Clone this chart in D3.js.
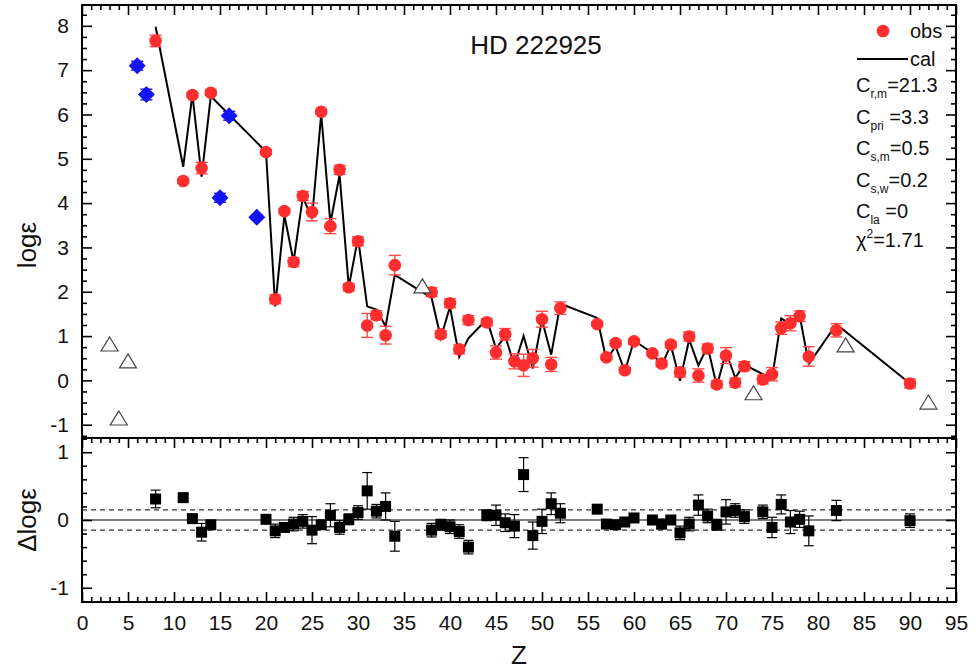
<!DOCTYPE html>
<html>
<head>
<meta charset="utf-8">
<script src="https://cdn.jsdelivr.net/npm/d3@7"></script>
<style>
  body { margin: 0; background: #fff; }
  text { font-family: "Liberation Sans", Arial, sans-serif; fill: #111; }
</style>
</head>
<body>
<svg id="chart" width="976" height="670"></svg>
<script>
// fitted elements: observed abundance, error, model abundance, residual
const zObs = [8, 11, 12, 13, 14, 20, 21, 22, 23, 24, 25, 26, 27, 28, 29, 30, 31, 32, 33, 34,
  38, 39, 40, 41, 42, 44, 45, 46, 47, 48, 49, 50, 51, 52, 56, 57, 58, 59, 60, 62,
  63, 64, 65, 66, 67, 68, 69, 70, 71, 72, 74, 75, 76, 77, 78, 79, 82, 90];
const logObs = [7.66, 4.50, 6.44, 4.79, 6.49, 5.15, 1.83, 3.82, 2.67, 4.16, 3.80, 6.06, 3.48, 4.75, 2.10, 3.14, 1.24, 1.47, 1.02, 2.60,
  1.99, 1.04, 1.74, 0.70, 1.36, 1.31, 0.63, 1.04, 0.43, 0.34, 0.50, 1.38, 0.36, 1.63, 1.27, 0.52, 0.84, 0.23, 0.88, 0.61,
  0.38, 0.81, 0.18, 0.99, 0.11, 0.72, -0.09, 0.56, -0.05, 0.32, 0.02, 0.14, 1.18, 1.29, 1.45, 0.54, 1.13, -0.07];
const errObs = [0.13, 0.05, 0.05, 0.13, 0.06, 0.05, 0.10, 0.06, 0.10, 0.10, 0.20, 0.05, 0.17, 0.10, 0.08, 0.10, 0.27, 0.10, 0.20, 0.22,
  0.10, 0.08, 0.10, 0.10, 0.10, 0.08, 0.15, 0.13, 0.17, 0.25, 0.20, 0.18, 0.16, 0.14, 0.05, 0.05, 0.06, 0.06, 0.06, 0.05,
  0.07, 0.06, 0.10, 0.10, 0.15, 0.10, 0.08, 0.18, 0.10, 0.10, 0.10, 0.15, 0.14, 0.17, 0.12, 0.22, 0.15, 0.10];
const logCal = [7.98, 4.82, 6.45, 4.60, 6.41, 5.16, 1.67, 3.72, 2.68, 4.14, 3.65, 6.01, 3.55, 4.64, 2.11, 3.22, 1.67, 1.60, 1.22, 2.38,
  1.86, 0.96, 1.66, 0.53, 0.95, 1.38, 0.72, 1.00, 0.34, 1.00, 0.27, 1.36, 0.58, 1.73, 1.41, 0.46, 0.77, 0.20, 0.90, 0.62,
  0.33, 0.80, -0.01, 0.92, 0.34, 0.77, -0.13, 0.64, 0.06, 0.35, 0.14, 0.03, 1.40, 1.27, 1.47, 0.37, 1.27, -0.07];
const dLog = [0.31, 0.33, 0.02, -0.18, -0.07, 0.01, -0.16, -0.11, -0.06, -0.02, -0.15, -0.07, 0.07, -0.11, 0.01, 0.11, 0.43, 0.13, 0.20, -0.24,
  -0.15, -0.07, -0.10, -0.17, -0.40, 0.07, 0.07, -0.04, -0.09, 0.67, -0.23, -0.02, 0.24, 0.10, 0.16, -0.06, -0.07, -0.03, 0.03, 0.00,
  -0.06, 0.00, -0.19, -0.06, 0.22, 0.06, -0.07, 0.12, 0.14, 0.05, 0.12, -0.11, 0.23, -0.03, 0.01, -0.16, 0.14, -0.01];

// light elements not in the fit
const zOther = [6, 7, 15, 16, 19];
const logOther = [7.10, 6.45, 4.12, 5.97, 3.68];
const errOther = [0.10, 0.12, 0.10, 0.10, 0.05];

// upper limits
const zLimit = [3, 4, 5, 37, 73, 83, 92];
const logLimit = [0.81, -0.86, 0.43, 2.12, -0.29, 0.79, -0.50];

const xTicks = d3.range(0, 96, 5);
const yTopTicks = d3.range(-1, 9, 1);
const yBotTicks = [-1, 0, 1];
const dashLevel = [-0.15, 0.15];

const starName = "HD 222925";
const paramRows = [
  { base: "C", sub: "r,m", rest: "=21.3" },
  { base: "C", sub: "pri", rest: " =3.3" },
  { base: "C", sub: "s,m", rest: "=0.5" },
  { base: "C", sub: "s,w", rest: "=0.2" },
  { base: "C", sub: "la", rest: " =0" }
];
const chiRow = { base: "\u03c7", sup: "2", rest: "=1.71" };

const obs = zObs.map((z, i) => ({ z, v: logObs[i], e: errObs[i], cal: logCal[i], d: dLog[i] }));
const other = zOther.map((z, i) => ({ z, v: logOther[i], e: errOther[i] }));
const limits = zLimit.map((z, i) => ({ z, v: logLimit[i] }));

const svg = d3.select("#chart");

const left = 82, right = 956;
const topY0 = 5, topY1 = 438, botY1 = 602;

const x = d3.scaleLinear().domain([0, 95]).range([left, right]);
const yTop = d3.scaleLinear().domain([-1.3, 8.47]).range([topY1, topY0]);
const yBot = d3.scaleLinear().domain([-1.21, 1.21]).range([botY1, topY1]);

const red = "#ff2e2e", blue = "#1414f0";

// ticks on every edge point inward
function ticks(gen, scale, major, minor, len, labels) {
  const g = svg.append("g");
  const a = gen(scale).tickValues(major).tickSize(-len).tickPadding(13)
    .tickFormat(labels ? (d => String(d)) : "");
  g.call(a);
  const m = svg.append("g").call(gen(scale).tickValues(minor).tickSize(-len / 2).tickFormat(""));
  [g, m].forEach(s => {
    s.select(".domain").remove();
    s.selectAll("line").attr("stroke", "#000").attr("stroke-width", 1.6);
    s.selectAll("text").attr("font-size", 21).attr("fill", "#111")
      .attr("font-family", "'Liberation Sans', Arial, sans-serif");
  });
  return [g, m];
}

const xMinor = d3.range(0, 96, 1).filter(v => v % 5 !== 0);
const yTopMinor = d3.range(-1.25, 8.5, 0.25).filter(v => Math.abs(v - Math.round(v)) > 1e-6);
const yBotMinor = d3.range(-1.2, 1.21, 0.2).map(v => Math.round(v * 10) / 10).filter(v => Math.abs(v) !== 1 && v !== 0);

// upper panel axes
ticks(d3.axisTop, x, xTicks, xMinor, 10, false).forEach(g => g.attr("transform", `translate(0,${topY0})`));
ticks(d3.axisLeft, yTop, yTopTicks, yTopMinor, 10, true).forEach(g => g.attr("transform", `translate(${left},0)`));
ticks(d3.axisRight, yTop, yTopTicks, yTopMinor, 10, false).forEach(g => g.attr("transform", `translate(${right},0)`));

// lower panel axes
ticks(d3.axisTop, x, xTicks, xMinor, 10, false).forEach(g => g.attr("transform", `translate(0,${topY1})`));
ticks(d3.axisBottom, x, xTicks, xMinor, 10, true).forEach(g => g.attr("transform", `translate(0,${botY1})`));
ticks(d3.axisLeft, yBot, yBotTicks, yBotMinor, 10, true).forEach(g => g.attr("transform", `translate(${left},0)`));
ticks(d3.axisRight, yBot, yBotTicks, yBotMinor, 10, false).forEach(g => g.attr("transform", `translate(${right},0)`));

// frames
svg.append("rect").attr("x", left).attr("y", topY0).attr("width", right - left).attr("height", topY1 - topY0)
  .attr("fill", "none").attr("stroke", "#000").attr("stroke-width", 2);
svg.append("rect").attr("x", left).attr("y", topY1).attr("width", right - left).attr("height", botY1 - topY1)
  .attr("fill", "none").attr("stroke", "#000").attr("stroke-width", 2);

// ---- upper panel ----
const upper = svg.append("g");

const calLine = d3.line().x(d => x(d.z)).y(d => yTop(d.cal));
upper.append("path").datum(obs).attr("d", calLine)
  .attr("fill", "none").attr("stroke", "#000").attr("stroke-width", 2).attr("stroke-linejoin", "miter");

// error bars with caps
function errorBars(g, data, yScale, valKey, color, cap, width) {
  const eb = g.append("g").attr("stroke", color).attr("stroke-width", width);
  eb.selectAll(".v").data(data).join("line")
    .attr("x1", d => x(d.z)).attr("x2", d => x(d.z))
    .attr("y1", d => yScale(d[valKey] - d.e)).attr("y2", d => yScale(d[valKey] + d.e));
  [-1, 1].forEach(s => {
    eb.selectAll(".c" + (s + 1)).data(data).join("line").attr("class", "c" + (s + 1))
      .attr("x1", d => x(d.z) - cap).attr("x2", d => x(d.z) + cap)
      .attr("y1", d => yScale(d[valKey] + s * d.e)).attr("y2", d => yScale(d[valKey] + s * d.e));
  });
}

errorBars(upper, obs, yTop, "v", "#ff4a4a", 6, 1.4);
upper.selectAll(".obs").data(obs).join("circle")
  .attr("cx", d => x(d.z)).attr("cy", d => yTop(d.v)).attr("r", 6.3)
  .attr("fill", red);

errorBars(upper, other, yTop, "v", blue, 6, 1.4);
upper.selectAll(".other").data(other).join("path")
  .attr("transform", d => `translate(${x(d.z)},${yTop(d.v)})`)
  .attr("d", "M0,-8.5L8.5,0L0,8.5L-8.5,0Z").attr("fill", blue);

upper.selectAll(".lim").data(limits).join("path")
  .attr("transform", d => `translate(${x(d.z)},${yTop(d.v)})`)
  .attr("d", "M0,-7.5L8.5,6.5L-8.5,6.5Z").attr("fill", "#fff").attr("stroke", "#444").attr("stroke-width", 1.2);

// title
svg.append("text").attr("x", 536).attr("y", 54).attr("text-anchor", "middle")
  .attr("font-size", 26).text(starName);

// legend
svg.append("circle").attr("cx", 883).attr("cy", 31).attr("r", 6.3).attr("fill", red);
svg.append("text").attr("x", 910).attr("y", 38).attr("font-size", 20).text("obs");
svg.append("line").attr("x1", 857).attr("x2", 908).attr("y1", 59).attr("y2", 59)
  .attr("stroke", "#000").attr("stroke-width", 2);
svg.append("text").attr("x", 910).attr("y", 66).attr("font-size", 20).text("cal");

paramRows.forEach((r, i) => {
  const t = svg.append("text").attr("x", 856).attr("y", 92 + i * 31.5).attr("font-size", 20);
  t.append("tspan").text(r.base);
  t.append("tspan").attr("font-size", 12).attr("dy", 6).text(r.sub);
  t.append("tspan").attr("dy", -6).text(r.rest);
});
{
  const t = svg.append("text").attr("x", 856).attr("y", 247).attr("font-size", 20);
  t.append("tspan").text(chiRow.base);
  t.append("tspan").attr("font-size", 12).attr("dy", -9).text(chiRow.sup);
  t.append("tspan").attr("dy", 9).text(chiRow.rest);
}

// ---- lower panel ----
const lower = svg.append("g");
lower.append("line").attr("x1", left).attr("x2", right).attr("y1", yBot(0)).attr("y2", yBot(0))
  .attr("stroke", "#000").attr("stroke-width", 1.2);
lower.selectAll(".dash").data(dashLevel).join("line")
  .attr("x1", left).attr("x2", right).attr("y1", d => yBot(d)).attr("y2", d => yBot(d))
  .attr("stroke", "#333").attr("stroke-width", 1.2).attr("stroke-dasharray", "5,4");

errorBars(lower, obs, yBot, "d", "#000", 5, 1.2);
lower.selectAll(".res").data(obs).join("rect")
  .attr("x", d => x(d.z) - 5.5).attr("y", d => yBot(d.d) - 5.5)
  .attr("width", 11).attr("height", 11).attr("fill", "#000");

// axis titles
svg.append("text").attr("transform", "translate(36,245) rotate(-90)").attr("text-anchor", "middle")
  .attr("font-size", 26).text("log\u03b5");
svg.append("text").attr("transform", "translate(36,520) rotate(-90)").attr("text-anchor", "middle")
  .attr("font-size", 26).text("\u0394log\u03b5");
svg.append("text").attr("x", 519).attr("y", 664).attr("text-anchor", "middle")
  .attr("font-size", 26).text("Z");
</script>
</body>
</html>
